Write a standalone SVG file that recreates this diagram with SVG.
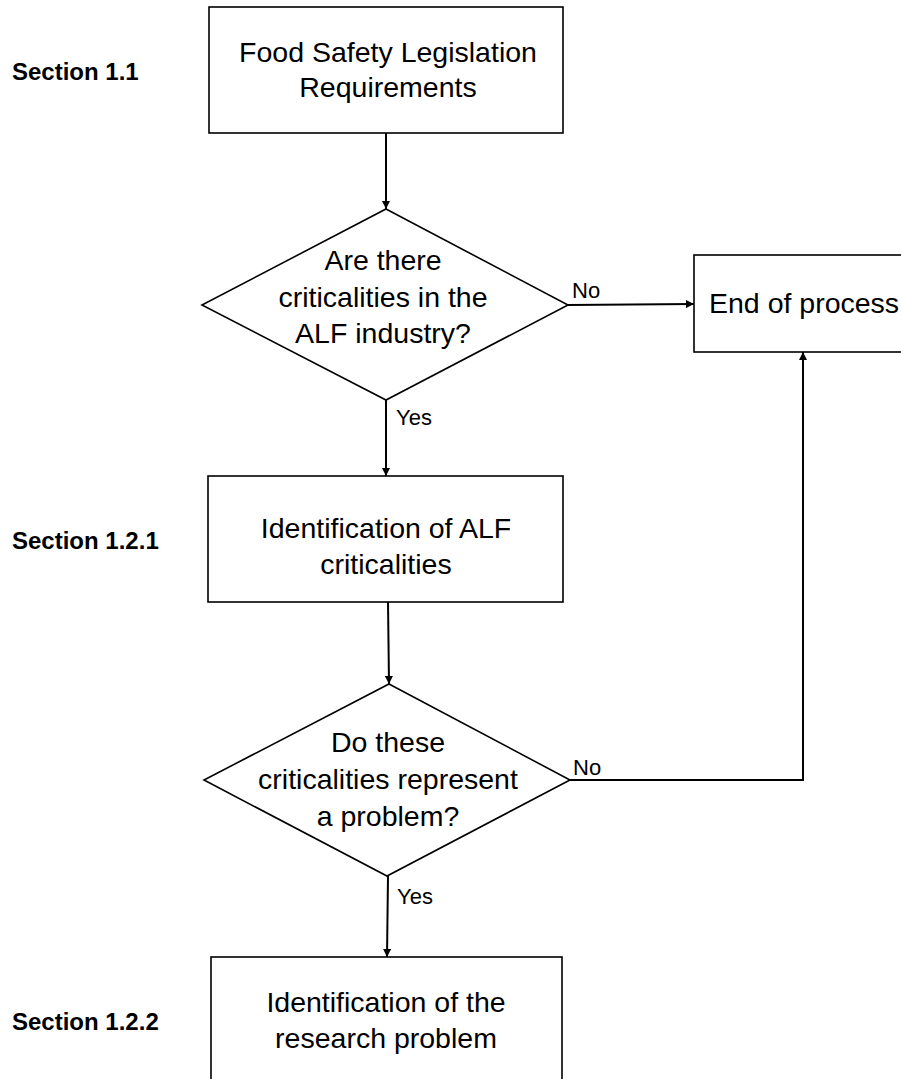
<svg xmlns="http://www.w3.org/2000/svg" width="901" height="1079" viewBox="0 0 901 1079">
  <defs>
    <marker id="arrow" viewBox="0 0 10 10" refX="10" refY="5" markerWidth="8" markerHeight="8" markerUnits="userSpaceOnUse" orient="auto">
      <path d="M0,0 L10,5 L0,10 z" fill="#000"/>
    </marker>
    <style>
      .shape { fill: #fff; stroke: #000; stroke-width: 1.6; }
      .label { font-family: "Liberation Sans", Arial, sans-serif; font-size: 28.5px; fill: #000; text-anchor: middle; }
      .edge-label { font-family: "Liberation Sans", Arial, sans-serif; font-size: 22px; fill: #000; }
      .section { font-family: "Liberation Sans", Arial, sans-serif; font-size: 24px; font-weight: bold; fill: #000; }
      .edge { fill: none; stroke: #000; stroke-width: 2; marker-end: url(#arrow); }
    </style>
  </defs>
  <rect width="901" height="1079" fill="#fff"/>

  <!-- section captions -->
  <g id="captions">
    <text class="section" x="12" y="80">Section 1.1</text>
    <text class="section" x="12" y="549">Section 1.2.1</text>
    <text class="section" x="12" y="1030">Section 1.2.2</text>
  </g>

  <!-- connectors -->
  <g id="connectors">
    <path class="edge" d="M386,133 L386,209"/>
    <path class="edge" d="M568,305 L694,304"/>
    <path class="edge" d="M386,400 L386,476"/>
    <path class="edge" d="M388,602 L389,684"/>
    <path class="edge" d="M570,780 L803,780 L803,352"/>
    <path class="edge" d="M388,876 L387,957"/>
    <text class="edge-label" x="572" y="298">No</text>
    <text class="edge-label" x="396" y="425">Yes</text>
    <text class="edge-label" x="573" y="775">No</text>
    <text class="edge-label" x="397" y="904">Yes</text>
  </g>

  <g id="n-legislation">
    <rect class="shape" x="209" y="7" width="354" height="126"/>
    <text class="label" x="388" y="62">Food Safety Legislation</text>
    <text class="label" x="388" y="97">Requirements</text>
  </g>

  <g id="d-criticalities">
    <polygon class="shape" points="386,209 568,305 386,400 202,305"/>
    <text class="label" x="383" y="270">Are there</text>
    <text class="label" x="383" y="307">criticalities in the</text>
    <text class="label" x="383" y="343">ALF industry?</text>
  </g>

  <g id="n-end">
    <rect class="shape" x="694" y="255" width="230" height="97"/>
    <text class="label" x="709" y="313" style="text-anchor:start">End of process</text>
  </g>

  <g id="n-identify-alf">
    <rect class="shape" x="208" y="476" width="355" height="126"/>
    <text class="label" x="386" y="538">Identification of ALF</text>
    <text class="label" x="386" y="574">criticalities</text>
  </g>

  <g id="d-problem">
    <polygon class="shape" points="389,684 570,780 387,876 204,780"/>
    <text class="label" x="388" y="752">Do these</text>
    <text class="label" x="388" y="789">criticalities represent</text>
    <text class="label" x="388" y="826">a problem?</text>
  </g>

  <g id="n-research-problem">
    <rect class="shape" x="211" y="957" width="351" height="140"/>
    <text class="label" x="386" y="1012">Identification of the</text>
    <text class="label" x="386" y="1048">research problem</text>
  </g>
</svg>
